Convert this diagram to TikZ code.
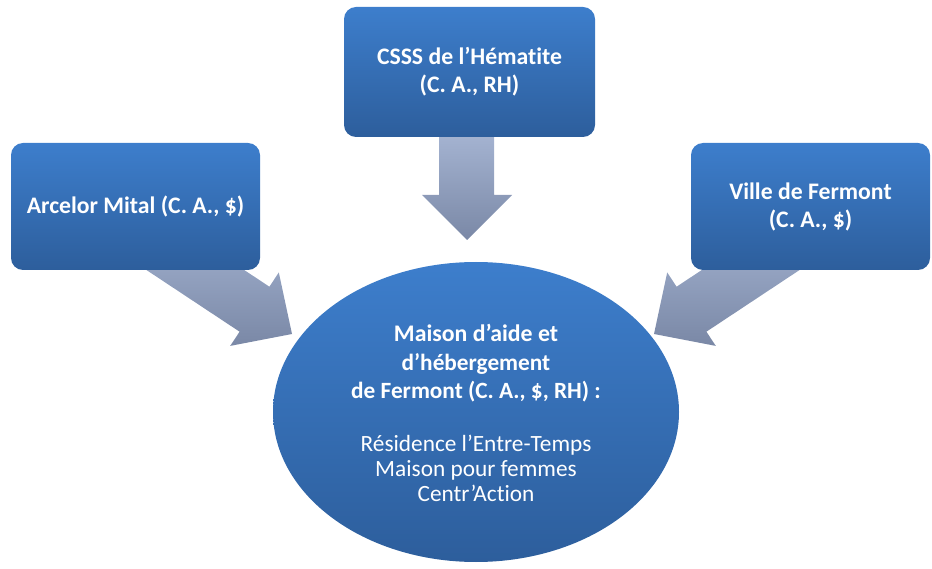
\documentclass[tikz,border=0pt]{standalone}
\usepackage{fontspec}
\setmainfont[Ligatures=NoCommon]{Carlito}
\usetikzlibrary{shapes.geometric}
\definecolor{boxtop}{HTML}{3D7ECC}
\definecolor{boxbot}{HTML}{2D5E9C}
\definecolor{arrtop}{HTML}{A6B5D3}
\definecolor{arrbot}{HTML}{7A88A6}
\tikzset{
  orgbox/.style={rectangle, rounded corners=12pt, top color=boxtop, bottom color=boxbot,
    draw=none, text=white, align=center, inner sep=0pt,
    font=\fontsize{23.7}{28}\selectfont\bfseries},
  hubshape/.style={ellipse, top color=boxtop, bottom color=boxbot, draw=none,
    text=white, align=center, inner sep=0pt, minimum width=406pt, minimum height=300pt},
  blockarrow/.style={top color=arrtop, bottom color=arrbot, draw=none}
}
\begin{document}
\begin{tikzpicture}[x=1pt,y=-1pt]
\useasboundingbox (0,0) rectangle (932,569);
% block arrows (drawn first, behind boxes)
\shade[blockarrow] (439,130) -- (494,130) -- (494,195) -- (512,195) -- (467,240)
  -- (422,195) -- (439,195) -- cycle;
\shade[blockarrow] (161.0,214.9) -- (269.4,286.7) -- (278.8,272.5) -- (292,334)
  -- (230.2,345.9) -- (239.6,331.7) -- (131.2,259.9) -- cycle;
\shade[blockarrow] (785.0,214.9) -- (676.6,286.7) -- (667.2,272.5) -- (654,334)
  -- (715.8,345.9) -- (706.4,331.7) -- (814.8,259.9) -- cycle;
% boxes
\node[orgbox, minimum width=251pt, minimum height=130pt] (csss) at (469.5,72)
  {CSSS de l’Hématite\\(C. A., RH)};
\node[orgbox, minimum width=249pt, minimum height=127pt] (arcelor) at (135.5,206.5)
  {Arcelor Mital (C. A., \$)};
\node[orgbox, minimum width=239pt, minimum height=127pt] (ville) at (810.5,206.5)
  {Ville de Fermont\\(C. A., \$)};
% hub
\node[hubshape] (maison) at (476,412) {};
\node[text=white, align=center, font=\fontsize{23.3}{25}\selectfont, inner sep=0pt] (maisontxt) at (476,413)
  {\fontsize{23.8}{25}\selectfont\bfseries Maison d’aide et\\[3.5pt]\bfseries d’hébergement\\[3.5pt]\bfseries de Fermont (C. A., \$, RH) :\\[28pt]
   \fontsize{23.3}{25}\selectfont\mdseries Résidence l’Entre-Temps\\ Maison pour femmes\\ Centr’Action};
\end{tikzpicture}
\end{document}
